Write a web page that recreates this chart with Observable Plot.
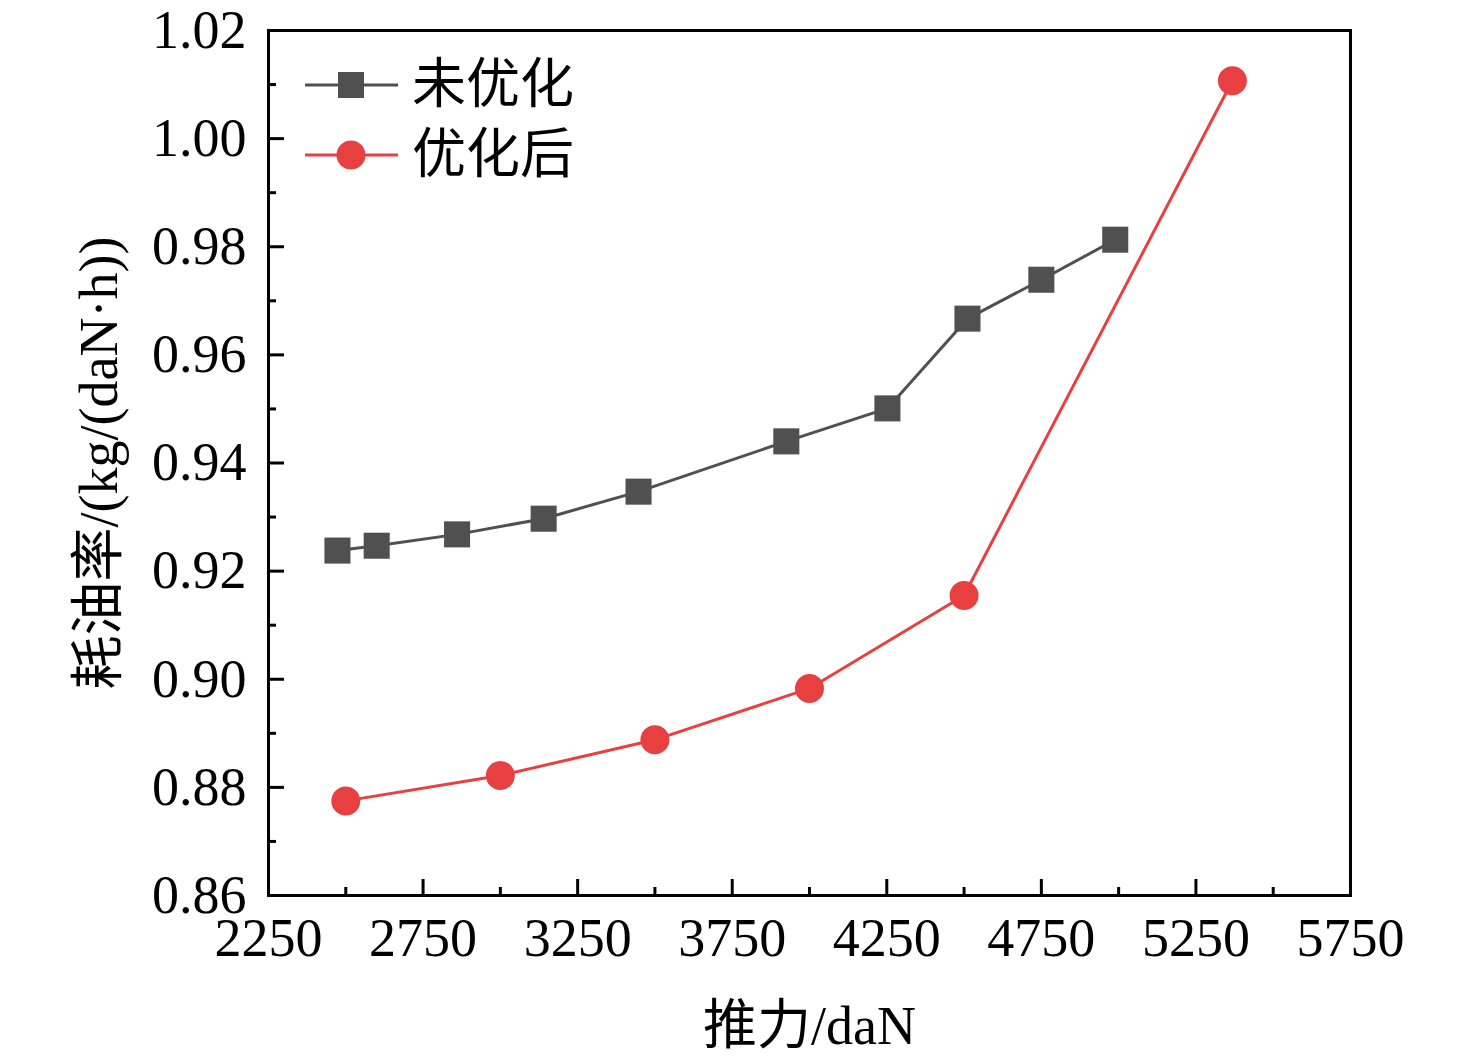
<!DOCTYPE html>
<html><head><meta charset="utf-8">
<script src="https://cdn.jsdelivr.net/npm/d3@7"></script>
<script src="https://cdn.jsdelivr.net/npm/@observablehq/plot@0.6"></script>
<style>
body{margin:0;background:#fff}
#wrap{position:relative;width:1476px;height:1058px}
.lg{position:absolute;left:300px;display:flex;align-items:center;font-family:'Liberation Serif','Noto Sans CJK SC',serif;font-size:54px;color:#000;line-height:1}
.lg svg{display:block;margin-right:12px}
</style></head><body><div id="wrap"></div>
<script>
const seriesNames = ["未优化", "优化后"];
const seriesColors = ["#505050", "#e84040"];
const seriesSymbols = ["square", "circle"];
const xBefore = [2473, 2600, 2860, 3140, 3447, 3925, 4252, 4511, 4750, 4989];
const yBefore = [0.9238, 0.9247, 0.9268, 0.9297, 0.9347, 0.9440, 0.9501, 0.9667, 0.9739, 0.9813];
const xAfter = [2500, 3000, 3500, 4000, 4500, 5368];
const yAfter = [0.8775, 0.8822, 0.8888, 0.8983, 0.9155, 1.0107];
const xTicks = [2250, 2750, 3250, 3750, 4250, 4750, 5250, 5750];
const xMinor = [2500, 3000, 3500, 4000, 4500, 5000, 5500];
const yTicks = [0.86, 0.88, 0.90, 0.92, 0.94, 0.96, 0.98, 1.00, 1.02];
const yMinor = [0.87, 0.89, 0.91, 0.93, 0.95, 0.97, 0.99, 1.01];
const xLabel = "推力/daN";
const yLabel = "耗油率/(kg/(daN·h))";

const before = xBefore.map((x, i) => ({x, y: yBefore[i]}));
const after = xAfter.map((x, i) => ({x, y: yAfter[i]}));

const font = "'Liberation Serif','Noto Sans CJK SC',serif";
const chart = Plot.plot({
  width: 1476, height: 1058,
  marginLeft: 268, marginRight: 126, marginTop: 30, marginBottom: 163,
  style: {fontFamily: font, fontSize: "54px", color: "#000", background: "#fff"},
  x: {domain: [2250, 5750]},
  y: {domain: [0.86, 1.02]},
  marks: [
    Plot.axisX(xTicks, {tickSize: 0, tickPadding: 22, tickFormat: d => String(d), label: xLabel, labelAnchor: "center", labelOffset: 148, labelArrow: "none"}),
    Plot.axisX(xTicks, {tickSize: -16, strokeWidth: 3, tickFormat: () => "", label: null}),
    Plot.axisX(xMinor, {tickSize: -8, strokeWidth: 3, tickFormat: () => "", label: null}),
    Plot.axisY(yTicks, {tickSize: 0, tickPadding: 22, tickFormat: d => d.toFixed(2), label: yLabel, labelAnchor: "center", labelOffset: 190, labelArrow: "none"}),
    Plot.axisY(yTicks, {tickSize: -16, strokeWidth: 3, tickFormat: () => "", label: null}),
    Plot.axisY(yMinor, {tickSize: -8, strokeWidth: 3, tickFormat: () => "", label: null}),
    Plot.frame({stroke: "#000", strokeWidth: 3}),
    Plot.line(before, {x: "x", y: "y", stroke: seriesColors[0], strokeWidth: 3}),
    Plot.dot(before, {x: "x", y: "y", symbol: seriesSymbols[0], r: 14.7, fill: seriesColors[0], stroke: "none"}),
    Plot.line(after, {x: "x", y: "y", stroke: seriesColors[1], strokeWidth: 3}),
    Plot.dot(after, {x: "x", y: "y", symbol: seriesSymbols[1], r: 14.5, fill: seriesColors[1], stroke: "none"})
  ]
});
const wrap = document.getElementById("wrap");
wrap.appendChild(chart);

// legend overlay
const tops = [58, 128];
seriesNames.forEach((name, i) => {
  const row = document.createElement("div");
  row.className = "lg";
  row.style.top = tops[i] + "px";
  const ns = "http://www.w3.org/2000/svg";
  const s = document.createElementNS(ns, "svg");
  s.setAttribute("width", 100); s.setAttribute("height", 54);
  const ln = document.createElementNS(ns, "line");
  ln.setAttribute("x1", 5); ln.setAttribute("x2", 98); ln.setAttribute("y1", 27); ln.setAttribute("y2", 27);
  ln.setAttribute("stroke", seriesColors[i]); ln.setAttribute("stroke-width", 3);
  s.appendChild(ln);
  if (seriesSymbols[i] === "square") {
    const r = document.createElementNS(ns, "rect");
    r.setAttribute("x", 51 - 13); r.setAttribute("y", 27 - 13); r.setAttribute("width", 26); r.setAttribute("height", 26);
    r.setAttribute("fill", seriesColors[i]); s.appendChild(r);
  } else {
    const c = document.createElementNS(ns, "circle");
    c.setAttribute("cx", 51); c.setAttribute("cy", 27); c.setAttribute("r", 14.5);
    c.setAttribute("fill", seriesColors[i]); s.appendChild(c);
  }
  row.appendChild(s);
  const t = document.createElement("span");
  t.textContent = name;
  row.appendChild(t);
  wrap.appendChild(row);
});
</script>
</body></html>
